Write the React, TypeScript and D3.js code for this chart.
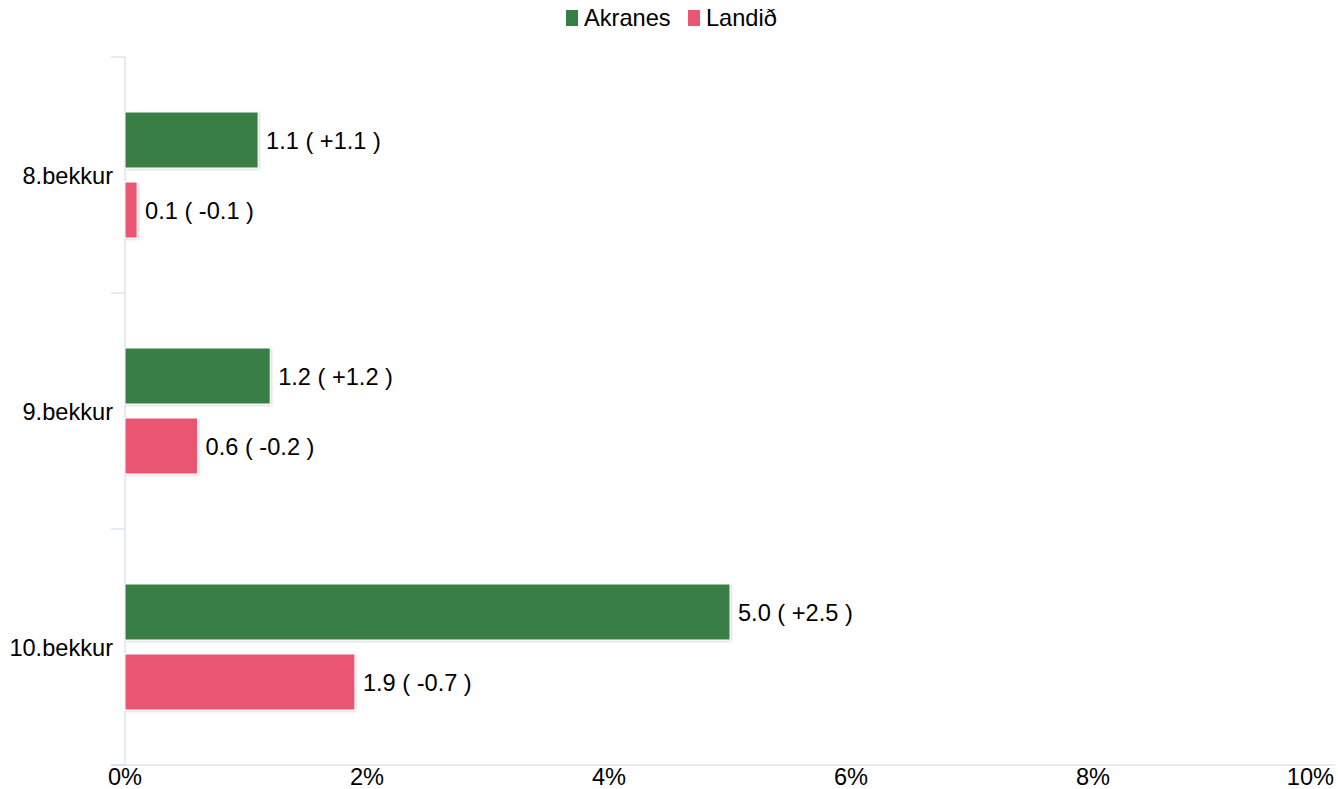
import React from "react";
import * as d3 from "d3";

const categories = ["8.bekkur", "9.bekkur", "10.bekkur"];
const seriesNames = ["Akranes", "Landið"];
const akranes = [1.1, 1.2, 5.0];
const landid = [0.1, 0.6, 1.9];
const akranesDiff = ["+1.1", "+1.2", "+2.5"];
const landidDiff = ["-0.1", "-0.2", "-0.7"];
const xTicks = [0, 2, 4, 6, 8, 10];
const colors = ["#377e45", "#ea5571"];

const W = 1338;
const H = 789;
const FONT = "'Liberation Sans', Arial, Helvetica, sans-serif";
const FS = 23.6;

export default function App() {
  const left = 125;
  const right = 1335;
  const top = 57;
  const bottom = 765;

  const x = d3.scaleLinear().domain([0, 10]).range([left, right]);
  const y0 = d3.scaleBand<string>().domain(categories).range([top, bottom]);
  const y1 = d3
    .scaleBand<string>()
    .domain(seriesNames)
    .range([0, y0.step()])
    .paddingInner(0.2)
    .paddingOuter(0.786);

  const values = [akranes, landid];
  const diffs = [akranesDiff, landidDiff];
  const tickYs = [...categories.map((c) => y0(c) as number), bottom];

  return (
    <div style={{ position: "absolute", left: 0, top: 0 }}>
      <svg width={W} height={H} style={{ display: "block", fontFamily: FONT }}>
        <defs>
          <filter id="sh" x="-10%" y="-10%" width="130%" height="130%">
            <feDropShadow dx="1" dy="1" stdDeviation="1" floodColor="#000" floodOpacity="0.18" />
          </filter>
        </defs>
        <rect width={W} height={H} fill="#fff" />

        {/* legend */}
        <g>
          <rect x={566} y={10} width={12} height={16} fill={colors[0]} />
          <text x={584} y={26} fontSize={FS} fill="#000">
            {seriesNames[0]}
          </text>
          <rect x={688} y={10} width={12} height={16} fill={colors[1]} />
          <text x={706} y={26} fontSize={FS} fill="#000">
            {seriesNames[1]}
          </text>
        </g>

        {/* y axis */}
        <line x1={left} x2={left} y1={top} y2={bottom} stroke="#ccd6eb" strokeWidth={1} />
        {tickYs.map((t, i) => (
          <line key={i} x1={111} x2={left} y1={t} y2={t} stroke="#ccd6eb" strokeWidth={1} />
        ))}
        {categories.map((c) => (
          <text
            key={c}
            x={113}
            y={(y0(c) as number) + y0.bandwidth() / 2}
            dy="0.4em"
            textAnchor="end"
            fontSize={FS}
            fill="#000"
          >
            {c}
          </text>
        ))}

        {/* x axis */}
        <line x1={111} x2={right} y1={bottom} y2={bottom} stroke="#ccd6eb" strokeWidth={1} />
        {xTicks.map((t, i) => {
          const last = i === xTicks.length - 1;
          return (
            <text
              key={t}
              x={last ? right - 1 : x(t)}
              y={785}
              textAnchor={last ? "end" : "middle"}
              fontSize={FS}
              fill="#000"
            >
              {t + "%"}
            </text>
          );
        })}

        {/* bars */}
        {categories.map((c, ci) =>
          seriesNames.map((s, si) => {
            const v = values[si][ci];
            const yy = (y0(c) as number) + (y1(s) as number);
            const h = y1.bandwidth();
            return (
              <g key={c + s}>
                <rect
                  x={x(0)}
                  y={yy}
                  width={x(v) - x(0)}
                  height={h}
                  fill={colors[si]}
                  stroke="#fff"
                  strokeWidth={1}
                  filter="url(#sh)"
                />
                <text
                  x={x(v) + 8}
                  y={yy + h / 2}
                  dy="0.4em"
                  fontSize={FS}
                  fill="#000"
                >
                  {`${v.toFixed(1)} ( ${diffs[si][ci]} )`}
                </text>
              </g>
            );
          })
        )}
      </svg>
    </div>
  );
}
